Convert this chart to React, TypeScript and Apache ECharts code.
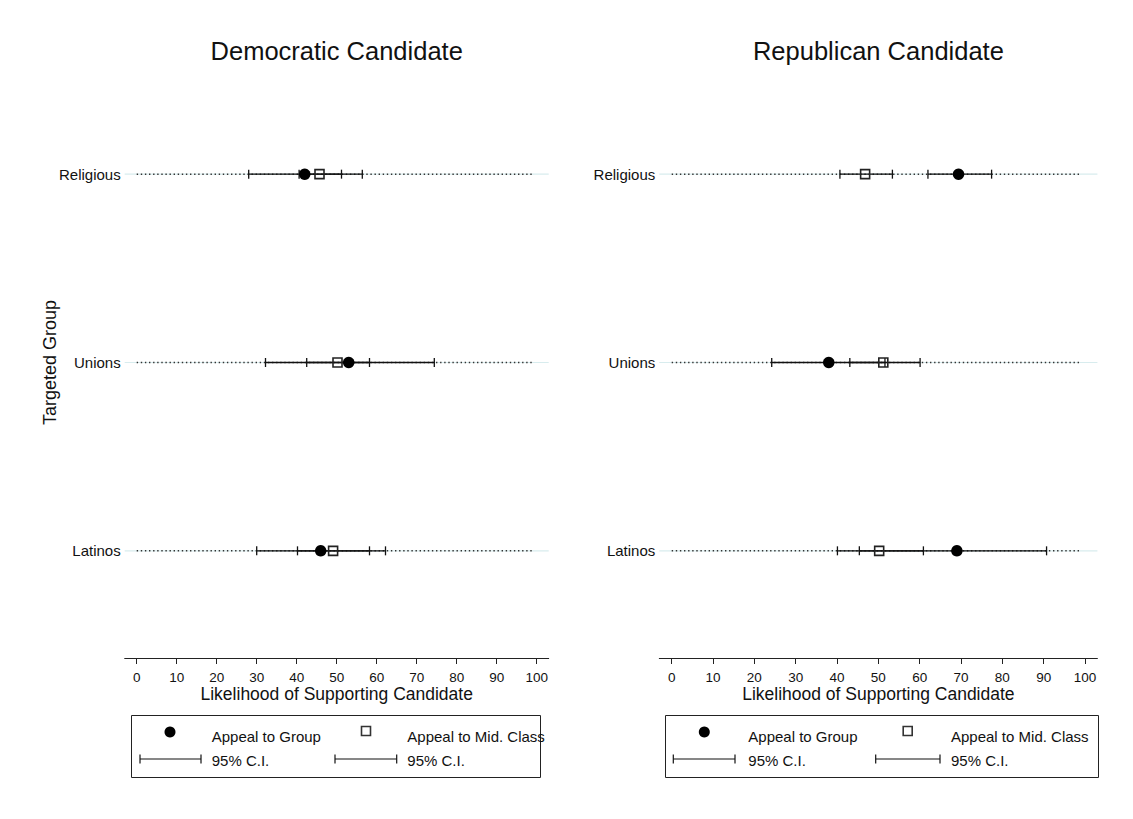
import React, { useEffect, useRef } from "react";
import * as echarts from "echarts";

// Targeted groups, listed bottom to top on the category axis
const groups = ["Latinos", "Unions", "Religious"];

// Democratic candidate: appeal to the targeted group
const demGroupMean = [46, 53, 42];
const demGroupLo = [30, 32.2, 28];
const demGroupHi = [62.2, 74.4, 56.4];
// Democratic candidate: appeal to the middle class
const demMidMean = [49.1, 50.2, 45.7];
const demMidLo = [40.2, 42.5, 40.6];
const demMidHi = [58.2, 58.2, 51.2];

// Republican candidate: appeal to the targeted group
const repGroupMean = [69, 38, 69.4];
const repGroupLo = [45.4, 24.2, 62];
const repGroupHi = [90.7, 51.6, 77.4];
// Republican candidate: appeal to the middle class
const repMidMean = [50.2, 51.2, 46.8];
const repMidLo = [40.1, 43.1, 40.7];
const repMidHi = [60.9, 60.1, 53.4];

const xTicks = [0, 10, 20, 30, 40, 50, 60, 70, 80, 90, 100];
const panelTitles = ["Democratic Candidate", "Republican Candidate"];
const xTitle = "Likelihood of Supporting Candidate";
const yTitle = "Targeted Group";
const legendGroup = "Appeal to Group";
const legendMid = "Appeal to Mid. Class";
const legendCI = "95% C.I.";

const FONT = '"Liberation Sans", Arial, Helvetica, sans-serif';
const INK = "#111";

const panels = [
  { gm: demGroupMean, gl: demGroupLo, gh: demGroupHi, mm: demMidMean, ml: demMidLo, mh: demMidHi },
  { gm: repGroupMean, gl: repGroupLo, gh: repGroupHi, mm: repMidMean, ml: repMidLo, mh: repMidHi },
];

const gridBoxes = [
  { left: 124.7, top: 80, width: 424, height: 565 },
  { left: 659.3, top: 80, width: 438.1, height: 565 },
];

// Error bar with end caps
function ciRender(params: any, api: any) {
  const y = api.value(0);
  const p1 = api.coord([api.value(1), y]);
  const p2 = api.coord([api.value(2), y]);
  const h = 4.5;
  const style = { stroke: "#111", lineWidth: 1.3 };
  return {
    type: "group",
    children: [
      { type: "line", shape: { x1: p1[0], y1: p1[1], x2: p2[0], y2: p2[1] }, style },
      { type: "line", shape: { x1: p1[0], y1: p1[1] - h, x2: p1[0], y2: p1[1] + h }, style },
      { type: "line", shape: { x1: p2[0], y1: p2[1] - h, x2: p2[0], y2: p2[1] + h }, style },
    ],
  };
}

// Faint row rule plus dotted guide across the scale
function guideRender(params: any, api: any) {
  const y = api.value(0);
  const cs = params.coordSys;
  const a = api.coord([0, y]);
  const b = api.coord([99, y]);
  return {
    type: "group",
    children: [
      {
        type: "line",
        shape: { x1: cs.x, y1: a[1], x2: cs.x + cs.width, y2: a[1] },
        style: { stroke: "#d8ecee", lineWidth: 1.2 },
      },
      {
        type: "line",
        shape: { x1: a[0], y1: a[1], x2: b[0], y2: b[1] },
        style: { stroke: "#333", lineWidth: 1.5, lineDash: [1.4, 2.7] },
      },
    ],
  };
}

function legendBox(x0: number, w: number, cx: number[], tx: number[], ci: number[][]) {
  const txt = (t: string, x: number, y: number) => ({
    type: "text",
    x,
    y,
    style: { text: t, fill: INK, font: `15px ${FONT}`, textAlign: "left", textVerticalAlign: "middle" },
  });
  const ciLine = (xa: number, xb: number, y: number) => ({
    type: "group",
    children: [
      { type: "line", shape: { x1: xa, y1: y, x2: xb, y2: y }, style: { stroke: "#111", lineWidth: 1.2 } },
      { type: "line", shape: { x1: xa, y1: y - 4.5, x2: xa, y2: y + 4.5 }, style: { stroke: "#111", lineWidth: 1.2 } },
      { type: "line", shape: { x1: xb, y1: y - 4.5, x2: xb, y2: y + 4.5 }, style: { stroke: "#111", lineWidth: 1.2 } },
    ],
  });
  return [
    { type: "rect", shape: { x: x0, y: 715.5, width: w, height: 62 }, style: { fill: "none", stroke: "#222", lineWidth: 1 } },
    { type: "circle", shape: { cx: cx[0], cy: 732, r: 5.5 }, style: { fill: "#000" } },
    txt(legendGroup, tx[0], 736),
    { type: "rect", shape: { x: cx[1] - 4.5, y: 726.5, width: 9, height: 9 }, style: { fill: "none", stroke: "#333", lineWidth: 1.6 } },
    txt(legendMid, tx[1], 736),
    ciLine(ci[0][0], ci[0][1], 759),
    txt(legendCI, tx[0], 760),
    ciLine(ci[1][0], ci[1][1], 759),
    txt(legendCI, tx[1], 760),
  ];
}

export default function App() {
  const ref = useRef<HTMLDivElement>(null);

  useEffect(() => {
    if (!ref.current) return;
    const chart = echarts.init(ref.current, null, { renderer: "svg" });

    const series: any[] = [];
    panels.forEach((p, i) => {
      series.push({
        type: "custom",
        xAxisIndex: i,
        yAxisIndex: i,
        renderItem: guideRender,
        data: groups.map((_, k) => [k]),
        encode: { y: 0 },
        silent: true,
      });
      series.push({
        type: "custom",
        xAxisIndex: i,
        yAxisIndex: i,
        renderItem: ciRender,
        data: groups.map((_, k) => [k, p.gl[k], p.gh[k]]),
        encode: { y: 0, x: [1, 2] },
      });
      series.push({
        type: "custom",
        xAxisIndex: i,
        yAxisIndex: i,
        renderItem: ciRender,
        data: groups.map((_, k) => [k, p.ml[k], p.mh[k]]),
        encode: { y: 0, x: [1, 2] },
      });
      series.push({
        type: "scatter",
        name: legendMid,
        xAxisIndex: i,
        yAxisIndex: i,
        symbol: "rect",
        symbolSize: 9,
        itemStyle: { color: "rgba(255,255,255,0)", borderColor: "#222", borderWidth: 1.6, opacity: 1 },
        data: groups.map((_, k) => [p.mm[k], k]),
        z: 3,
      });
      series.push({
        type: "scatter",
        name: legendGroup,
        xAxisIndex: i,
        yAxisIndex: i,
        symbol: "circle",
        symbolSize: 11.5,
        itemStyle: { color: "#000", opacity: 1 },
        data: groups.map((_, k) => [p.gm[k], k]),
        z: 4,
      });
    });

    const titleCenters = [336.7, 878.4];

    chart.setOption({
      animation: false,
      backgroundColor: "#fff",
      textStyle: { fontFamily: FONT },
      grid: gridBoxes,
      xAxis: gridBoxes.map((_, i) => ({
        type: "value",
        gridIndex: i,
        min: -3,
        max: 103,
        offset: 13,
        axisLine: { show: true, lineStyle: { color: "#222", width: 1 } },
        axisTick: { show: true, customValues: xTicks, length: 6, lineStyle: { color: "#222", width: 1 } },
        axisLabel: { customValues: xTicks, fontSize: 13.5, color: INK, margin: 12 },
        splitLine: { show: false },
        name: xTitle,
        nameLocation: "middle",
        nameGap: 27,
        nameMoveOverlap: false,
        nameTextStyle: { fontSize: 17.5, color: INK },
      })),
      yAxis: gridBoxes.map((_, i) => ({
        type: "category",
        gridIndex: i,
        data: groups,
        axisLine: { show: false },
        axisTick: { show: false },
        axisLabel: { fontSize: 15, color: INK, margin: 4 },
        splitLine: { show: false },
        name: i === 0 ? yTitle : "",
        nameLocation: "middle",
        nameRotate: 90,
        nameGap: 66,
        nameMoveOverlap: false,
        nameTextStyle: { fontSize: 18, color: INK },
      })),
      graphic: [
        ...panelTitles.map((t, i) => ({
          type: "text",
          x: titleCenters[i],
          y: 51,
          style: { text: t, fill: INK, font: `25.5px ${FONT}`, textAlign: "center", textVerticalAlign: "middle" },
        })),
        ...legendBox(131.5, 409, [170, 366], [211.7, 407.3], [[140, 201], [335, 396.7]]),
        ...legendBox(665.5, 433, [704.3, 907.7], [748.3, 951], [[673.3, 735], [875.7, 940]]),
      ],
      series,
    });

    return () => chart.dispose();
  }, []);

  return (
    <div
      ref={ref}
      style={{ position: "fixed", left: 0, top: 0, width: 1133, height: 819, background: "#fff" }}
    />
  );
}
